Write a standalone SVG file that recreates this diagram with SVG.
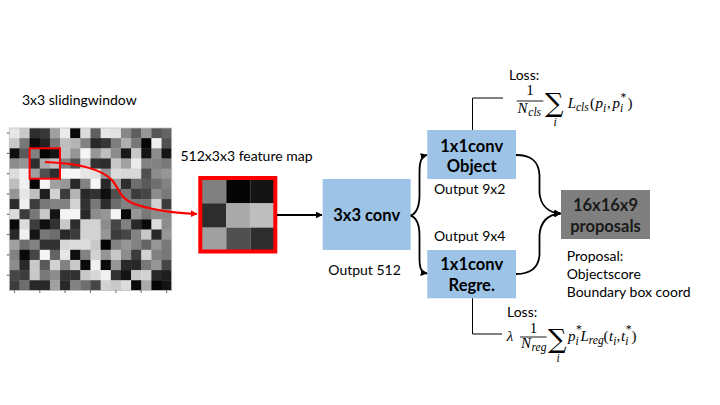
<svg xmlns="http://www.w3.org/2000/svg" width="720" height="405" viewBox="0 0 720 405">
<defs>
<style>
.lbl{font-family:Lato,"Liberation Sans",sans-serif;font-size:14px;fill:#000}
.bx{font-family:Lato,"Liberation Sans",sans-serif;font-size:16.5px;font-weight:bold;fill:#000;text-anchor:middle}
.m{font-family:"Liberation Serif","DejaVu Serif",serif;font-size:15px;fill:#000}
.mi{font-family:"Liberation Serif","DejaVu Serif",serif;font-size:15px;font-style:italic;fill:#000}
.ms{font-family:"Liberation Serif","DejaVu Serif",serif;font-size:11.5px;font-style:italic;fill:#000}
.sum{font-family:"DejaVu Serif",serif;font-size:26px;fill:#000}
.blue{fill:#9DC3E6}
.con{fill:none;stroke:#000;stroke-width:1.8}
.br{fill:none;stroke:#000;stroke-width:1}
.tick{stroke:#333;stroke-width:0.8}
</style>
<marker id="ah" viewBox="0 0 10 10" refX="9" refY="5" markerWidth="7" markerHeight="7" markerUnits="userSpaceOnUse" orient="auto"><path d="M0,0 L10,5 L0,10 z" fill="#000"/></marker>
<marker id="ahr" viewBox="0 0 10 10" refX="9" refY="5" markerWidth="7" markerHeight="7" markerUnits="userSpaceOnUse" orient="auto"><path d="M0,0 L10,5 L0,10 z" fill="#FF0000"/></marker>
</defs>
<rect width="720" height="405" fill="#fff"/>

<g id="input-image">
<text class="lbl" x="22" y="105">3x3 slidingwindow</text>
<g transform="translate(9.3,128) scale(10.15)">
<rect x="0" y="0" width="1.04" height="1.04" fill="#e6e6e6"/><rect x="1" y="0" width="1.04" height="1.04" fill="#c8c8c8"/><rect x="2" y="0" width="1.04" height="1.04" fill="#2d2d2d"/><rect x="3" y="0" width="1.04" height="1.04" fill="#373737"/><rect x="4" y="0" width="1.04" height="1.04" fill="#a0a0a0"/><rect x="5" y="0" width="1.04" height="1.04" fill="#ebebeb"/><rect x="6" y="0" width="1.04" height="1.04" fill="#0a0a0a"/><rect x="7" y="0" width="1.04" height="1.04" fill="#dcdcdc"/><rect x="8" y="0" width="1.04" height="1.04" fill="#5f5f5f"/><rect x="9" y="0" width="1.04" height="1.04" fill="#e6e6e6"/><rect x="10" y="0" width="1.04" height="1.04" fill="#e1e1e1"/><rect x="11" y="0" width="1.04" height="1.04" fill="#878787"/><rect x="12" y="0" width="1.04" height="1.04" fill="#5f5f5f"/><rect x="13" y="0" width="1.04" height="1.04" fill="#969696"/><rect x="14" y="0" width="1.04" height="1.04" fill="#555555"/><rect x="15" y="0" width="1" height="1.04" fill="#646464"/>
<rect x="0" y="1" width="1.04" height="1.04" fill="#c8c8c8"/><rect x="1" y="1" width="1.04" height="1.04" fill="#787878"/><rect x="2" y="1" width="1.04" height="1.04" fill="#0a0a0a"/><rect x="3" y="1" width="1.04" height="1.04" fill="#232323"/><rect x="4" y="1" width="1.04" height="1.04" fill="#787878"/><rect x="5" y="1" width="1.04" height="1.04" fill="#bebebe"/><rect x="6" y="1" width="1.04" height="1.04" fill="#b4b4b4"/><rect x="7" y="1" width="1.04" height="1.04" fill="#828282"/><rect x="8" y="1" width="1.04" height="1.04" fill="#282828"/><rect x="9" y="1" width="1.04" height="1.04" fill="#373737"/><rect x="10" y="1" width="1.04" height="1.04" fill="#7d7d7d"/><rect x="11" y="1" width="1.04" height="1.04" fill="#afafaf"/><rect x="12" y="1" width="1.04" height="1.04" fill="#787878"/><rect x="13" y="1" width="1.04" height="1.04" fill="#050505"/><rect x="14" y="1" width="1.04" height="1.04" fill="#f0f0f0"/><rect x="15" y="1" width="1" height="1.04" fill="#505050"/>
<rect x="0" y="2" width="1.04" height="1.04" fill="#0f0f0f"/><rect x="1" y="2" width="1.04" height="1.04" fill="#5a5a5a"/><rect x="2" y="2" width="1.04" height="1.04" fill="#808080"/><rect x="3" y="2" width="1.04" height="1.04" fill="#050505"/><rect x="4" y="2" width="1.04" height="1.04" fill="#141414"/><rect x="5" y="2" width="1.04" height="1.04" fill="#bebebe"/><rect x="6" y="2" width="1.04" height="1.04" fill="#969696"/><rect x="7" y="2" width="1.04" height="1.04" fill="#f5f5f5"/><rect x="8" y="2" width="1.04" height="1.04" fill="#969696"/><rect x="9" y="2" width="1.04" height="1.04" fill="#bebebe"/><rect x="10" y="2" width="1.04" height="1.04" fill="#8c8c8c"/><rect x="11" y="2" width="1.04" height="1.04" fill="#191919"/><rect x="12" y="2" width="1.04" height="1.04" fill="#c8c8c8"/><rect x="13" y="2" width="1.04" height="1.04" fill="#141414"/><rect x="14" y="2" width="1.04" height="1.04" fill="#8c8c8c"/><rect x="15" y="2" width="1" height="1.04" fill="#141414"/>
<rect x="0" y="3" width="1.04" height="1.04" fill="#8c8c8c"/><rect x="1" y="3" width="1.04" height="1.04" fill="#969696"/><rect x="2" y="3" width="1.04" height="1.04" fill="#2d2d2d"/><rect x="3" y="3" width="1.04" height="1.04" fill="#aaaaaa"/><rect x="4" y="3" width="1.04" height="1.04" fill="#bebebe"/><rect x="5" y="3" width="1.04" height="1.04" fill="#828282"/><rect x="6" y="3" width="1.04" height="1.04" fill="#505050"/><rect x="7" y="3" width="1.04" height="1.04" fill="#c8c8c8"/><rect x="8" y="3" width="1.04" height="1.04" fill="#323232"/><rect x="9" y="3" width="1.04" height="1.04" fill="#2d2d2d"/><rect x="10" y="3" width="1.04" height="1.04" fill="#c8c8c8"/><rect x="11" y="3" width="1.04" height="1.04" fill="#a0a0a0"/><rect x="12" y="3" width="1.04" height="1.04" fill="#ebebeb"/><rect x="13" y="3" width="1.04" height="1.04" fill="#828282"/><rect x="14" y="3" width="1.04" height="1.04" fill="#828282"/><rect x="15" y="3" width="1" height="1.04" fill="#787878"/>
<rect x="0" y="4" width="1.04" height="1.04" fill="#dcdcdc"/><rect x="1" y="4" width="1.04" height="1.04" fill="#f0f0f0"/><rect x="2" y="4" width="1.04" height="1.04" fill="#a0a0a0"/><rect x="3" y="4" width="1.04" height="1.04" fill="#505050"/><rect x="4" y="4" width="1.04" height="1.04" fill="#2d2d2d"/><rect x="5" y="4" width="1.04" height="1.04" fill="#f5f5f5"/><rect x="6" y="4" width="1.04" height="1.04" fill="#f5f5f5"/><rect x="7" y="4" width="1.04" height="1.04" fill="#e6e6e6"/><rect x="8" y="4" width="1.04" height="1.04" fill="#e1e1e1"/><rect x="9" y="4" width="1.04" height="1.04" fill="#969696"/><rect x="10" y="4" width="1.04" height="1.04" fill="#dcdcdc"/><rect x="11" y="4" width="1.04" height="1.04" fill="#d7d7d7"/><rect x="12" y="4" width="1.04" height="1.04" fill="#d7d7d7"/><rect x="13" y="4" width="1.04" height="1.04" fill="#505050"/><rect x="14" y="4" width="1.04" height="1.04" fill="#8c8c8c"/><rect x="15" y="4" width="1" height="1.04" fill="#969696"/>
<rect x="0" y="5" width="1.04" height="1.04" fill="#bebebe"/><rect x="1" y="5" width="1.04" height="1.04" fill="#f0f0f0"/><rect x="2" y="5" width="1.04" height="1.04" fill="#050505"/><rect x="3" y="5" width="1.04" height="1.04" fill="#f5f5f5"/><rect x="4" y="5" width="1.04" height="1.04" fill="#a0a0a0"/><rect x="5" y="5" width="1.04" height="1.04" fill="#969696"/><rect x="6" y="5" width="1.04" height="1.04" fill="#282828"/><rect x="7" y="5" width="1.04" height="1.04" fill="#828282"/><rect x="8" y="5" width="1.04" height="1.04" fill="#f5f5f5"/><rect x="9" y="5" width="1.04" height="1.04" fill="#282828"/><rect x="10" y="5" width="1.04" height="1.04" fill="#a0a0a0"/><rect x="11" y="5" width="1.04" height="1.04" fill="#2d2d2d"/><rect x="12" y="5" width="1.04" height="1.04" fill="#6e6e6e"/><rect x="13" y="5" width="1.04" height="1.04" fill="#5a5a5a"/><rect x="14" y="5" width="1.04" height="1.04" fill="#6e6e6e"/><rect x="15" y="5" width="1" height="1.04" fill="#828282"/>
<rect x="0" y="6" width="1.04" height="1.04" fill="#969696"/><rect x="1" y="6" width="1.04" height="1.04" fill="#e6e6e6"/><rect x="2" y="6" width="1.04" height="1.04" fill="#bebebe"/><rect x="3" y="6" width="1.04" height="1.04" fill="#1e1e1e"/><rect x="4" y="6" width="1.04" height="1.04" fill="#d2d2d2"/><rect x="5" y="6" width="1.04" height="1.04" fill="#3c3c3c"/><rect x="6" y="6" width="1.04" height="1.04" fill="#b4b4b4"/><rect x="7" y="6" width="1.04" height="1.04" fill="#282828"/><rect x="8" y="6" width="1.04" height="1.04" fill="#323232"/><rect x="9" y="6" width="1.04" height="1.04" fill="#0f0f0f"/><rect x="10" y="6" width="1.04" height="1.04" fill="#505050"/><rect x="11" y="6" width="1.04" height="1.04" fill="#787878"/><rect x="12" y="6" width="1.04" height="1.04" fill="#3c3c3c"/><rect x="13" y="6" width="1.04" height="1.04" fill="#464646"/><rect x="14" y="6" width="1.04" height="1.04" fill="#8c8c8c"/><rect x="15" y="6" width="1" height="1.04" fill="#787878"/>
<rect x="0" y="7" width="1.04" height="1.04" fill="#2d2d2d"/><rect x="1" y="7" width="1.04" height="1.04" fill="#f0f0f0"/><rect x="2" y="7" width="1.04" height="1.04" fill="#3c3c3c"/><rect x="3" y="7" width="1.04" height="1.04" fill="#787878"/><rect x="4" y="7" width="1.04" height="1.04" fill="#828282"/><rect x="5" y="7" width="1.04" height="1.04" fill="#828282"/><rect x="6" y="7" width="1.04" height="1.04" fill="#d2d2d2"/><rect x="7" y="7" width="1.04" height="1.04" fill="#323232"/><rect x="8" y="7" width="1.04" height="1.04" fill="#787878"/><rect x="9" y="7" width="1.04" height="1.04" fill="#2d2d2d"/><rect x="10" y="7" width="1.04" height="1.04" fill="#6e6e6e"/><rect x="11" y="7" width="1.04" height="1.04" fill="#828282"/><rect x="12" y="7" width="1.04" height="1.04" fill="#787878"/><rect x="13" y="7" width="1.04" height="1.04" fill="#787878"/><rect x="14" y="7" width="1.04" height="1.04" fill="#d2d2d2"/><rect x="15" y="7" width="1" height="1.04" fill="#3c3c3c"/>
<rect x="0" y="8" width="1.04" height="1.04" fill="#dcdcdc"/><rect x="1" y="8" width="1.04" height="1.04" fill="#3c3c3c"/><rect x="2" y="8" width="1.04" height="1.04" fill="#787878"/><rect x="3" y="8" width="1.04" height="1.04" fill="#c8c8c8"/><rect x="4" y="8" width="1.04" height="1.04" fill="#141414"/><rect x="5" y="8" width="1.04" height="1.04" fill="#f5f5f5"/><rect x="6" y="8" width="1.04" height="1.04" fill="#f5f5f5"/><rect x="7" y="8" width="1.04" height="1.04" fill="#282828"/><rect x="8" y="8" width="1.04" height="1.04" fill="#8c8c8c"/><rect x="9" y="8" width="1.04" height="1.04" fill="#969696"/><rect x="10" y="8" width="1.04" height="1.04" fill="#f5f5f5"/><rect x="11" y="8" width="1.04" height="1.04" fill="#0a0a0a"/><rect x="12" y="8" width="1.04" height="1.04" fill="#969696"/><rect x="13" y="8" width="1.04" height="1.04" fill="#787878"/><rect x="14" y="8" width="1.04" height="1.04" fill="#8c8c8c"/><rect x="15" y="8" width="1" height="1.04" fill="#8c8c8c"/>
<rect x="0" y="9" width="1.04" height="1.04" fill="#0a0a0a"/><rect x="1" y="9" width="1.04" height="1.04" fill="#dcdcdc"/><rect x="2" y="9" width="1.04" height="1.04" fill="#3c3c3c"/><rect x="3" y="9" width="1.04" height="1.04" fill="#0f0f0f"/><rect x="4" y="9" width="1.04" height="1.04" fill="#323232"/><rect x="5" y="9" width="1.04" height="1.04" fill="#c8c8c8"/><rect x="6" y="9" width="1.04" height="1.04" fill="#2d2d2d"/><rect x="7" y="9" width="1.04" height="1.04" fill="#d2d2d2"/><rect x="8" y="9" width="1.04" height="1.04" fill="#d2d2d2"/><rect x="9" y="9" width="1.04" height="1.04" fill="#8c8c8c"/><rect x="10" y="9" width="1.04" height="1.04" fill="#464646"/><rect x="11" y="9" width="1.04" height="1.04" fill="#828282"/><rect x="12" y="9" width="1.04" height="1.04" fill="#282828"/><rect x="13" y="9" width="1.04" height="1.04" fill="#0a0a0a"/><rect x="14" y="9" width="1.04" height="1.04" fill="#dcdcdc"/><rect x="15" y="9" width="1" height="1.04" fill="#8c8c8c"/>
<rect x="0" y="10" width="1.04" height="1.04" fill="#282828"/><rect x="1" y="10" width="1.04" height="1.04" fill="#f0f0f0"/><rect x="2" y="10" width="1.04" height="1.04" fill="#141414"/><rect x="3" y="10" width="1.04" height="1.04" fill="#787878"/><rect x="4" y="10" width="1.04" height="1.04" fill="#6e6e6e"/><rect x="5" y="10" width="1.04" height="1.04" fill="#282828"/><rect x="6" y="10" width="1.04" height="1.04" fill="#3c3c3c"/><rect x="7" y="10" width="1.04" height="1.04" fill="#d2d2d2"/><rect x="8" y="10" width="1.04" height="1.04" fill="#d2d2d2"/><rect x="9" y="10" width="1.04" height="1.04" fill="#969696"/><rect x="10" y="10" width="1.04" height="1.04" fill="#3c3c3c"/><rect x="11" y="10" width="1.04" height="1.04" fill="#464646"/><rect x="12" y="10" width="1.04" height="1.04" fill="#828282"/><rect x="13" y="10" width="1.04" height="1.04" fill="#c8c8c8"/><rect x="14" y="10" width="1.04" height="1.04" fill="#282828"/><rect x="15" y="10" width="1" height="1.04" fill="#969696"/>
<rect x="0" y="11" width="1.04" height="1.04" fill="#a0a0a0"/><rect x="1" y="11" width="1.04" height="1.04" fill="#6e6e6e"/><rect x="2" y="11" width="1.04" height="1.04" fill="#828282"/><rect x="3" y="11" width="1.04" height="1.04" fill="#323232"/><rect x="4" y="11" width="1.04" height="1.04" fill="#323232"/><rect x="5" y="11" width="1.04" height="1.04" fill="#d7d7d7"/><rect x="6" y="11" width="1.04" height="1.04" fill="#dcdcdc"/><rect x="7" y="11" width="1.04" height="1.04" fill="#dcdcdc"/><rect x="8" y="11" width="1.04" height="1.04" fill="#c8c8c8"/><rect x="9" y="11" width="1.04" height="1.04" fill="#050505"/><rect x="10" y="11" width="1.04" height="1.04" fill="#828282"/><rect x="11" y="11" width="1.04" height="1.04" fill="#969696"/><rect x="12" y="11" width="1.04" height="1.04" fill="#828282"/><rect x="13" y="11" width="1.04" height="1.04" fill="#646464"/><rect x="14" y="11" width="1.04" height="1.04" fill="#969696"/><rect x="15" y="11" width="1" height="1.04" fill="#787878"/>
<rect x="0" y="12" width="1.04" height="1.04" fill="#828282"/><rect x="1" y="12" width="1.04" height="1.04" fill="#0a0a0a"/><rect x="2" y="12" width="1.04" height="1.04" fill="#464646"/><rect x="3" y="12" width="1.04" height="1.04" fill="#f5f5f5"/><rect x="4" y="12" width="1.04" height="1.04" fill="#646464"/><rect x="5" y="12" width="1.04" height="1.04" fill="#e6e6e6"/><rect x="6" y="12" width="1.04" height="1.04" fill="#0f0f0f"/><rect x="7" y="12" width="1.04" height="1.04" fill="#828282"/><rect x="8" y="12" width="1.04" height="1.04" fill="#d2d2d2"/><rect x="9" y="12" width="1.04" height="1.04" fill="#969696"/><rect x="10" y="12" width="1.04" height="1.04" fill="#c8c8c8"/><rect x="11" y="12" width="1.04" height="1.04" fill="#8c8c8c"/><rect x="12" y="12" width="1.04" height="1.04" fill="#3c3c3c"/><rect x="13" y="12" width="1.04" height="1.04" fill="#d2d2d2"/><rect x="14" y="12" width="1.04" height="1.04" fill="#828282"/><rect x="15" y="12" width="1" height="1.04" fill="#787878"/>
<rect x="0" y="13" width="1.04" height="1.04" fill="#8c8c8c"/><rect x="1" y="13" width="1.04" height="1.04" fill="#282828"/><rect x="2" y="13" width="1.04" height="1.04" fill="#c8c8c8"/><rect x="3" y="13" width="1.04" height="1.04" fill="#5a5a5a"/><rect x="4" y="13" width="1.04" height="1.04" fill="#d2d2d2"/><rect x="5" y="13" width="1.04" height="1.04" fill="#828282"/><rect x="6" y="13" width="1.04" height="1.04" fill="#c8c8c8"/><rect x="7" y="13" width="1.04" height="1.04" fill="#0a0a0a"/><rect x="8" y="13" width="1.04" height="1.04" fill="#f0f0f0"/><rect x="9" y="13" width="1.04" height="1.04" fill="#0a0a0a"/><rect x="10" y="13" width="1.04" height="1.04" fill="#969696"/><rect x="11" y="13" width="1.04" height="1.04" fill="#282828"/><rect x="12" y="13" width="1.04" height="1.04" fill="#282828"/><rect x="13" y="13" width="1.04" height="1.04" fill="#787878"/><rect x="14" y="13" width="1.04" height="1.04" fill="#969696"/><rect x="15" y="13" width="1" height="1.04" fill="#464646"/>
<rect x="0" y="14" width="1.04" height="1.04" fill="#464646"/><rect x="1" y="14" width="1.04" height="1.04" fill="#3c3c3c"/><rect x="2" y="14" width="1.04" height="1.04" fill="#c8c8c8"/><rect x="3" y="14" width="1.04" height="1.04" fill="#787878"/><rect x="4" y="14" width="1.04" height="1.04" fill="#8c8c8c"/><rect x="5" y="14" width="1.04" height="1.04" fill="#323232"/><rect x="6" y="14" width="1.04" height="1.04" fill="#323232"/><rect x="7" y="14" width="1.04" height="1.04" fill="#c8c8c8"/><rect x="8" y="14" width="1.04" height="1.04" fill="#d7d7d7"/><rect x="9" y="14" width="1.04" height="1.04" fill="#f0f0f0"/><rect x="10" y="14" width="1.04" height="1.04" fill="#323232"/><rect x="11" y="14" width="1.04" height="1.04" fill="#141414"/><rect x="12" y="14" width="1.04" height="1.04" fill="#c8c8c8"/><rect x="13" y="14" width="1.04" height="1.04" fill="#d2d2d2"/><rect x="14" y="14" width="1.04" height="1.04" fill="#282828"/><rect x="15" y="14" width="1" height="1.04" fill="#1e1e1e"/>
<rect x="0" y="15" width="1.04" height="1" fill="#3c3c3c"/><rect x="1" y="15" width="1.04" height="1" fill="#6e6e6e"/><rect x="2" y="15" width="1.04" height="1" fill="#282828"/><rect x="3" y="15" width="1.04" height="1" fill="#282828"/><rect x="4" y="15" width="1.04" height="1" fill="#a0a0a0"/><rect x="5" y="15" width="1.04" height="1" fill="#282828"/><rect x="6" y="15" width="1.04" height="1" fill="#828282"/><rect x="7" y="15" width="1.04" height="1" fill="#6e6e6e"/><rect x="8" y="15" width="1.04" height="1" fill="#464646"/><rect x="9" y="15" width="1.04" height="1" fill="#d2d2d2"/><rect x="10" y="15" width="1.04" height="1" fill="#c8c8c8"/><rect x="11" y="15" width="1.04" height="1" fill="#dcdcdc"/><rect x="12" y="15" width="1.04" height="1" fill="#0a0a0a"/><rect x="13" y="15" width="1.04" height="1" fill="#aaaaaa"/><rect x="14" y="15" width="1.04" height="1" fill="#050505"/><rect x="15" y="15" width="1" height="1" fill="#141414"/>
</g>
<rect x="9.3" y="128" width="162.4" height="162.4" fill="none" stroke="#c0c0c0" stroke-width="0.8"/>
<g class="tick">
<line x1="6.8" y1="133.1" x2="9.3" y2="133.1"/><line x1="6.8" y1="153.4" x2="9.3" y2="153.4"/><line x1="6.8" y1="173.7" x2="9.3" y2="173.7"/><line x1="6.8" y1="194" x2="9.3" y2="194"/><line x1="6.8" y1="214.3" x2="9.3" y2="214.3"/><line x1="6.8" y1="234.6" x2="9.3" y2="234.6"/><line x1="6.8" y1="254.9" x2="9.3" y2="254.9"/><line x1="6.8" y1="275.2" x2="9.3" y2="275.2"/>
<line x1="14.4" y1="290.4" x2="14.4" y2="292.9"/><line x1="39.8" y1="290.4" x2="39.8" y2="292.9"/><line x1="65.1" y1="290.4" x2="65.1" y2="292.9"/><line x1="90.5" y1="290.4" x2="90.5" y2="292.9"/><line x1="115.9" y1="290.4" x2="115.9" y2="292.9"/><line x1="141.2" y1="290.4" x2="141.2" y2="292.9"/><line x1="166.6" y1="290.4" x2="166.6" y2="292.9"/>
</g>
<rect x="29.6" y="148.3" width="30.4" height="30.4" fill="none" stroke="#FF0000" stroke-width="2"/>
</g>

<g id="feature-map">
<text class="lbl" x="180.5" y="160.5">512x3x3 feature map</text>
<rect x="202" y="179" width="24.4" height="24.4" fill="#808080"/><rect x="226.3" y="179" width="24.4" height="24.4" fill="#050505"/><rect x="250.6" y="179" width="24.4" height="24.4" fill="#141414"/>
<rect x="202" y="203.3" width="24.4" height="24.4" fill="#2d2d2d"/><rect x="226.3" y="203.3" width="24.4" height="24.4" fill="#aaaaaa"/><rect x="250.6" y="203.3" width="24.4" height="24.4" fill="#bebebe"/>
<rect x="202" y="227.6" width="24.4" height="24.4" fill="#a0a0a0"/><rect x="226.3" y="227.6" width="24.4" height="24.4" fill="#505050"/><rect x="250.6" y="227.6" width="24.4" height="24.4" fill="#2d2d2d"/>
<rect x="200.3" y="178" width="75" height="73.5" fill="none" stroke="#FF0000" stroke-width="4"/>
</g>

<g id="conv3x3">
<rect class="blue" x="322.7" y="179" width="88" height="71"/>
<text class="bx" x="366.7" y="220.5">3x3 conv</text>
<text class="lbl" x="328.3" y="275">Output 512</text>
</g>

<g id="conv-object">
<rect class="blue" x="427.3" y="130" width="88.7" height="49"/>
<text class="bx" x="471.7" y="151.5">1x1conv</text>
<text class="bx" x="471.7" y="171.5">Object</text>
<text class="lbl" x="434" y="194">Output 9x2</text>
</g>

<g id="conv-regre">
<rect class="blue" x="427.3" y="250" width="88.7" height="48.3"/>
<text class="bx" x="471.7" y="270">1x1conv</text>
<text class="bx" x="471.7" y="290.5">Regre.</text>
<text class="lbl" x="434" y="240.7">Output 9x4</text>
</g>

<g id="proposals">
<rect x="561" y="190" width="89" height="49" fill="#7F7F7F"/>
<text class="bx" x="605.5" y="210.7" style="fill:#1a1a1a">16x16x9</text>
<text class="bx" x="605.5" y="231.7" style="fill:#1a1a1a">proposals</text>
<text class="lbl" x="566.7" y="260.5">Proposal:</text>
<text class="lbl" x="566.7" y="278.5">Objectscore</text>
<text class="lbl" x="566.7" y="296.5">Boundary box coord</text>
</g>

<g id="loss-cls">
<text class="lbl" x="509" y="79.7">Loss:</text>
<text class="m" x="530" y="95" text-anchor="middle">1</text>
<line x1="516.7" y1="101" x2="543.3" y2="101" stroke="#000" stroke-width="0.9"/>
<text class="mi" x="517.5" y="113">N</text><text class="ms" x="528.3" y="116">cls</text>
<text class="sum" x="545" y="112">∑</text>
<text class="ms" x="555" y="126" text-anchor="middle">i</text>
<text class="mi" x="567.7" y="108">L</text><text class="ms" x="576" y="111">cls</text>
<text class="m" x="590" y="108">(</text><text class="mi" x="595.5" y="108">p</text><text class="ms" x="603" y="112">i</text>
<text class="m" x="607" y="108">,</text><text class="mi" x="612.5" y="108">p</text><text class="ms" x="620" y="112">i</text><text class="ms" x="620" y="100.5">*</text>
<text class="m" x="627.5" y="108">)</text>
</g>

<g id="loss-reg">
<text class="lbl" x="507" y="317">Loss:</text>
<text class="mi" x="506.7" y="340.5">λ</text>
<text class="m" x="533.5" y="332.5" text-anchor="middle">1</text>
<line x1="520" y1="337" x2="546.7" y2="337" stroke="#000" stroke-width="0.9"/>
<text class="mi" x="521" y="348">N</text><text class="ms" x="531.5" y="351">reg</text>
<text class="sum" x="548" y="348">∑</text>
<text class="ms" x="558" y="362" text-anchor="middle">i</text>
<text class="mi" x="568" y="340.5">p</text><text class="ms" x="575.5" y="344.5">i</text><text class="ms" x="575.5" y="333">*</text>
<text class="mi" x="580.5" y="340.5">L</text><text class="ms" x="588.8" y="343.5">reg</text>
<text class="m" x="603.5" y="340.5">(</text><text class="mi" x="609" y="340.5">t</text><text class="ms" x="613.2" y="344.5">i</text>
<text class="m" x="616.5" y="340.5">,</text><text class="mi" x="621" y="340.5">t</text><text class="ms" x="625.2" y="344.5">i</text><text class="ms" x="625.2" y="333">*</text>
<text class="m" x="631.5" y="340.5">)</text>
</g>

<g id="connectors">
<path d="M45,162 C75,163 100,168 112,180 C120,190 120,198 132,203 C150,210 175,213 197,214" fill="none" stroke="#FF0000" stroke-width="2.2" marker-end="url(#ahr)"/>
<path class="con" d="M277,215 L322,215" marker-end="url(#ah)"/>
<path class="con" d="M410.7,215.7 C417,213 419.5,205 419.5,195 L419.5,172 C419.5,162 421,156.5 427,155" marker-end="url(#ah)"/>
<path class="con" d="M410.7,215.7 C417,218 419.5,226 419.5,236 L419.5,258 C419.5,268 421,272.5 427,273.5" marker-end="url(#ah)"/>
<path class="con" d="M516,155 C530,155 538.5,160 539.5,175 L539.5,193 C540.5,205 548,212.5 560.5,213.5" marker-end="url(#ah)"/>
<path class="con" d="M516,274 C530,274 538.5,268 539.5,255 L539.5,235 C540.5,222 548,214.5 560.5,213.5" marker-end="url(#ah)"/>
<path class="br" d="M503,98 H472.5 V130"/>
<path class="br" d="M472.5,298.3 V334 H502"/>
</g>
</svg>
